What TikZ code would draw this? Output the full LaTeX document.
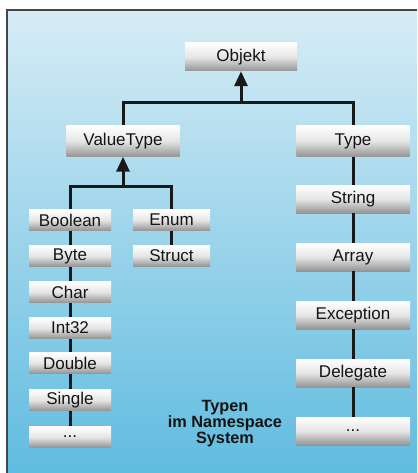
\documentclass[tikz,border=0pt]{standalone}
\usepackage{fontspec}
\setmainfont{Liberation Sans}
\usetikzlibrary{arrows.meta,shadings}
\definecolor{bgtop}{RGB}{214,236,245}
\definecolor{bgbot}{RGB}{96,188,224}
\definecolor{frameline}{RGB}{70,70,70}
\definecolor{txt}{RGB}{20,20,20}
\tikzset{
  box/.style={rectangle, inner sep=0pt, text=txt,
    top color=white, bottom color=black!42, middle color=white!90!black,
    font=\fontsize{17}{18}\selectfont},
  bigbox/.style={box, minimum width=113pt, minimum height=29pt},
  smallbox/.style={box, minimum width=82pt, minimum height=21pt},
  midbox/.style={box, minimum width=77pt, minimum height=21pt},
  conn/.style={line width=3pt, black!90},
  tip/.style={conn, -{Triangle[width=13pt,length=15pt]}},
}
\begin{document}
\begin{tikzpicture}[x=1pt,y=-1pt]
\useasboundingbox (0,0) rectangle (417,473);
\shade[top color=bgtop, bottom color=bgbot] (7,10) rectangle (417,473);
\draw[frameline, line width=1.2pt] (7,473) -- (7,10) -- (417,10);

% nodes
\node[bigbox, minimum width=112pt, minimum height=28pt] (ob) at (241,57) {Objekt};
\node[bigbox, minimum height=31pt] (vt) at (123,141) {ValueType};
\node[bigbox, minimum height=31pt] (ty) at (353,141) {Type};

\node[smallbox] (bo) at (70,220) {Boolean};
\node[smallbox] (by) at (70,256) {Byte};
\node[smallbox] (ch) at (70,292) {Char};
\node[smallbox] (in) at (70,328) {Int32};
\node[smallbox] (do) at (70,363) {Double};
\node[smallbox] (si) at (70,400) {Single};
\node[smallbox] (d1) at (70,437) {...};

\node[midbox] (en) at (171.5,220) {Enum};
\node[midbox] (st) at (171.5,256) {Struct};

\node[bigbox, minimum width=114pt, minimum height=28pt] (sr) at (353,199) {String};
\node[bigbox, minimum width=114pt, minimum height=28pt] (ar) at (353,257) {Array};
\node[bigbox, minimum width=114pt, minimum height=28pt] (ex) at (353,315) {Exception};
\node[bigbox, minimum width=114pt, minimum height=28pt] (de) at (353,373) {Delegate};
\node[bigbox, minimum width=114pt, minimum height=28pt] (d2) at (353,431) {...};

\node[align=center, text=txt, font=\bfseries\fontsize{16.3}{16}\selectfont] (cap) at (225,424)
  {Typen\\im Namespace\\System};

% connectors
\coordinate (j1) at (241,103);
\coordinate (j2) at (123,186);
\draw[conn] (vt.north) |- (j1) -| (ty.north);
\draw[tip] (j1) -- (ob.south);
\draw[conn] (bo.north) |- (j2) -| (en.north);
\draw[tip] (j2) -- (vt.south);
\draw[conn] (bo) -- (by); \draw[conn] (by) -- (ch); \draw[conn] (ch) -- (in);
\draw[conn] (in) -- (do); \draw[conn] (do) -- (si); \draw[conn] (si) -- (d1);
\draw[conn] (en) -- (st);
\draw[conn] (ty) -- (sr); \draw[conn] (sr) -- (ar); \draw[conn] (ar) -- (ex);
\draw[conn] (ex) -- (de); \draw[conn] (de) -- (d2);
\end{tikzpicture}
\end{document}
